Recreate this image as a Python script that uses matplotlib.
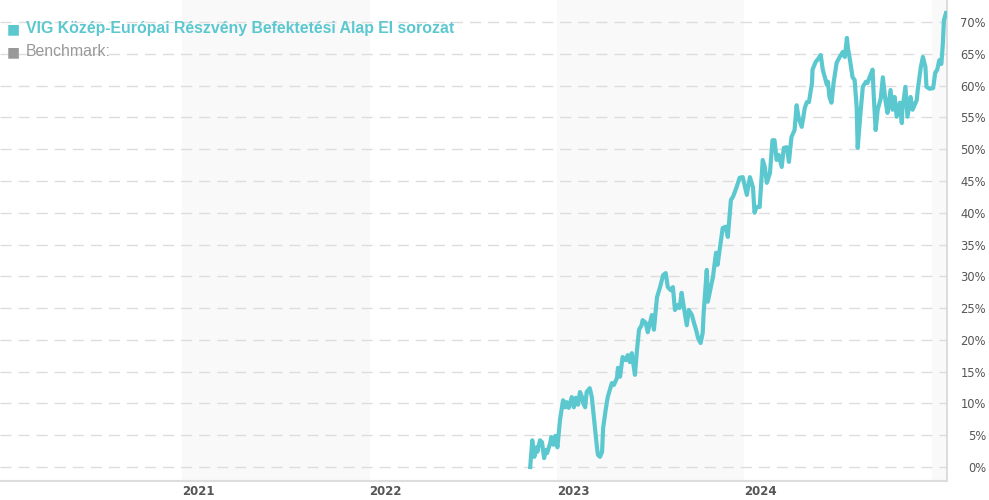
import matplotlib
matplotlib.use('Agg')
import matplotlib.pyplot as plt
import matplotlib.dates as mdates
import pandas as pd

# fund performance (date, cumulative % return)
dates = [
    '2022-11-10', '2022-11-14', '2022-11-18', '2022-11-22', '2022-11-24', '2022-11-29',
    '2022-12-03', '2022-12-07', '2022-12-11', '2022-12-13', '2022-12-19', '2022-12-21',
    '2022-12-25', '2022-12-29', '2023-01-02', '2023-01-07', '2023-01-13', '2023-01-17',
    '2023-01-20', '2023-01-24', '2023-01-30', '2023-02-03', '2023-02-07', '2023-02-11',
    '2023-02-15', '2023-02-19', '2023-02-21', '2023-02-25', '2023-02-28', '2023-03-06',
    '2023-03-10', '2023-03-16', '2023-03-20', '2023-03-22', '2023-03-26', '2023-03-30',
    '2023-04-01', '2023-04-06', '2023-04-10', '2023-04-18', '2023-04-22', '2023-04-28',
    '2023-04-30', '2023-05-04', '2023-05-09', '2023-05-15', '2023-05-19', '2023-05-23',
    '2023-05-27', '2023-06-02', '2023-06-06', '2023-06-10', '2023-06-15', '2023-06-17',
    '2023-06-23', '2023-06-27', '2023-07-05', '2023-07-09', '2023-07-15', '2023-07-21',
    '2023-07-27', '2023-08-01', '2023-08-05', '2023-08-11', '2023-08-15', '2023-08-19',
    '2023-08-25', '2023-08-28', '2023-09-01', '2023-09-03', '2023-09-11', '2023-09-15',
    '2023-09-21', '2023-09-25', '2023-09-29', '2023-10-03', '2023-10-08', '2023-10-12',
    '2023-10-14', '2023-10-20', '2023-10-22', '2023-10-28', '2023-11-01', '2023-11-07',
    '2023-11-10', '2023-11-14', '2023-11-20', '2023-11-26', '2023-11-30', '2023-12-06',
    '2023-12-10', '2023-12-17', '2023-12-23', '2023-12-29', '2024-01-06', '2024-01-12',
    '2024-01-18', '2024-01-21', '2024-01-25', '2024-01-31', '2024-02-06', '2024-02-10',
    '2024-02-14', '2024-02-20', '2024-02-25', '2024-02-29', '2024-03-04', '2024-03-08',
    '2024-03-14', '2024-03-18', '2024-03-24', '2024-03-28', '2024-04-02', '2024-04-08',
    '2024-04-12', '2024-04-16', '2024-04-22', '2024-04-28', '2024-05-02', '2024-05-06',
    '2024-05-12', '2024-05-13', '2024-05-19', '2024-05-25', '2024-05-29', '2024-06-02',
    '2024-06-06', '2024-06-10', '2024-06-12', '2024-06-15', '2024-06-19', '2024-06-23',
    '2024-06-29', '2024-07-05', '2024-07-11', '2024-07-15', '2024-07-19', '2024-07-21',
    '2024-07-25', '2024-07-30', '2024-08-03', '2024-08-07', '2024-08-09', '2024-08-15',
    '2024-08-19', '2024-08-25', '2024-08-28', '2024-09-03', '2024-09-07', '2024-09-09',
    '2024-09-13', '2024-09-17', '2024-09-23', '2024-09-27', '2024-10-02', '2024-10-06',
    '2024-10-12', '2024-10-16', '2024-10-20', '2024-10-24', '2024-10-30', '2024-11-03',
    '2024-11-04', '2024-11-10', '2024-11-14', '2024-11-20', '2024-11-24', '2024-12-02',
    '2024-12-04', '2024-12-10', '2024-12-14', '2024-12-19', '2024-12-21', '2024-12-27',
    '2025-01-03', '2025-01-07', '2025-01-11', '2025-01-15', '2025-01-19', '2025-01-22',
    '2025-01-24', '2025-01-28',
]
values = [
    0.0, 4.2, 1.6, 3.1, 2.4, 4.2,
    3.9, 1.4, 2.7, 2.2, 3.8, 4.7,
    3.5, 4.9, 3.1, 7.4, 10.5, 9.4,
    10.2, 9.3, 11.0, 9.4, 10.9, 9.8,
    11.8, 11.0, 10.1, 9.4, 11.8, 12.4,
    11.0, 6.3, 3.1, 1.9, 1.6, 2.4,
    6.1, 9.0, 11.0, 13.2, 12.9, 14.0,
    15.6, 14.2, 17.3, 16.8, 17.6, 16.5,
    17.9, 14.5, 18.4, 21.6, 22.3, 23.1,
    22.7, 21.2, 23.9, 21.6, 26.7, 28.3,
    30.2, 30.5, 28.3, 27.8, 28.3, 24.7,
    25.5, 25.0, 27.4, 26.3, 22.3, 24.7,
    23.9, 22.7, 21.6, 20.3, 19.5, 21.1,
    24.4, 31.0, 26.0, 28.3, 29.9, 33.7,
    31.8, 34.1, 37.6, 37.8, 36.2, 42.0,
    42.5, 44.0, 45.5, 45.6, 42.8, 45.6,
    44.0, 40.0, 40.9, 40.9, 48.3, 47.2,
    44.7, 46.2, 51.4, 51.4, 48.3, 49.1,
    47.2, 50.2, 50.3, 48.0, 51.9, 53.0,
    56.9, 54.9, 53.5, 56.5, 57.4, 57.4,
    60.4, 62.5, 63.7, 64.3, 64.8, 62.5,
    61.3, 60.1, 60.6, 58.2, 57.3, 60.4,
    63.6, 64.5, 65.3, 64.5, 67.5, 65.9,
    64.0, 61.3, 60.9, 56.6, 50.2, 56.2,
    59.8, 60.6, 60.4, 61.7, 62.5, 58.8,
    53.0, 56.2, 58.0, 61.3, 57.7, 55.7,
    59.3, 56.2, 58.2, 55.1, 57.3, 54.1,
    56.2, 59.8, 55.1, 58.2, 56.2, 57.7,
    59.3, 62.9, 64.5, 62.9, 59.8, 59.5,
    59.6, 62.0, 62.5, 64.0, 63.4, 66.7,
    70.3, 71.4,
]

years = [2020, 2021, 2022, 2023, 2024, 2025]
y_ticks = list(range(0, 75, 5))
fund_name = 'VIG Közép-Európai Részvény Befektetési Alap EI sorozat'
bench_name = 'Benchmark:'

teal = '#5bc8d0'

fig = plt.figure(figsize=(9.89, 5.0), dpi=100)
ax = fig.add_axes([0.0, 19 / 500, 947 / 989, 481 / 500])

x = pd.to_datetime(dates)

# alternating year bands
for i, yr in enumerate(years):
    if i % 2 == 1:
        ax.axvspan(pd.Timestamp(f'{yr}-01-01'), pd.Timestamp(f'{yr + 1}-01-01'),
                   color='#f9f9f9', zorder=0, lw=0)

for t in y_ticks:
    ax.axhline(t, color='#dddddd', lw=1, ls=(0, (8, 5)), zorder=1)

ax.plot(x, values, color=teal, lw=3.0, zorder=3, solid_joinstyle='round')

ax.set_xlim(pd.Timestamp('2020-01-12'), pd.Timestamp('2025-01-30'))
ax.set_ylim(-2.2, 73.46)

for s in ['top', 'left']:
    ax.spines[s].set_visible(False)
ax.spines['bottom'].set_color('#dddddd')
ax.spines['bottom'].set_linewidth(1.5)
ax.spines['right'].set_color('#d6d6d6')
ax.spines['right'].set_linewidth(1.2)

ax.yaxis.tick_right()
ax.set_yticks(y_ticks)
ax.set_yticklabels([f'{t}%' for t in y_ticks])
ax.tick_params(axis='y', length=0, pad=28, labelsize=8.3, labelcolor='#555555')
for lab in ax.get_yticklabels():
    lab.set_horizontalalignment('right')
    lab.set_family('DejaVu Sans')

ax.set_xticks([pd.Timestamp(f'{yr}-01-01') for yr in years[1:5]])
ax.xaxis.set_major_formatter(mdates.DateFormatter('%Y'))
ax.tick_params(axis='x', length=0, pad=3, labelsize=8.5, labelcolor='#555555')
for lab in ax.get_xticklabels():
    lab.set_horizontalalignment('left')
    lab.set_fontweight('bold')
    lab.set_family('DejaVu Sans')

# legend as header text: square marker + name
for row, (name, col, weight) in enumerate([(fund_name, teal, 'bold'),
                                           (bench_name, '#999999', 'normal')]):
    yy = 1 - (29 + 23 * row) / 500
    fig.text(7 / 989, yy, '\u25a0', color=col, fontsize=10, family='DejaVu Sans',
             va='center', ha='left')
    fig.text(26 / 989, yy, name, color=col, fontsize=11.4, fontweight=weight,
             family='Liberation Sans', va='center', ha='left')

fig.savefig('out.png', dpi=100)
